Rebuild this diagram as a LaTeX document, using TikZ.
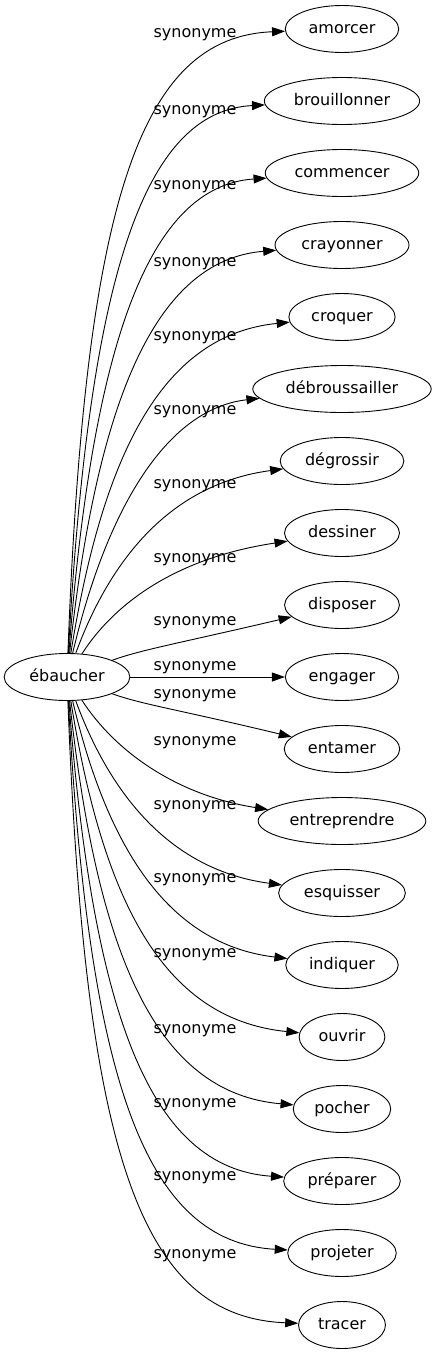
\documentclass[tikz,border=0pt]{standalone}
\usepackage{fontspec}
\setmainfont{DejaVu Sans}
\usepackage{tikz}
\usetikzlibrary{arrows.meta, shapes.geometric, calc}

\begin{document}
\begin{tikzpicture}[x=1pt, y=-1pt,
    every node/.style = {font=\fontsize{16pt}{19pt}\selectfont},
    word/.style = {draw, ellipse, line width=0.9pt, inner xsep=6.8pt,
      inner ysep=2pt, minimum height=47pt, text height=12pt, text depth=3.5pt},
    syn/.style  = {line width=0.9pt, -{Triangle[length=13pt, width=9pt]}},
    lbl/.style  = {inner sep=0pt, text height=12pt, text depth=3.5pt},
  ]
  \useasboundingbox (0,0) rectangle (435,1355);
  % the verb
  \node[word] (root) at (67,677) {ébaucher};
  % its synonyms
  \node[word] (amorcer) at (342,29) {amorcer};
  \node[word] (brouillonner) at (342,101) {brouillonner};
  \node[word] (commencer) at (342,173) {commencer};
  \node[word] (crayonner) at (342,245) {crayonner};
  \node[word] (croquer) at (342,317) {croquer};
  \node[word] (debroussailler) at (342,389) {débroussailler};
  \node[word] (degrossir) at (342,461) {dégrossir};
  \node[word] (dessiner) at (342,533) {dessiner};
  \node[word] (disposer) at (342,605) {disposer};
  \node[word] (engager) at (342,677) {engager};
  \node[word] (entamer) at (342,749) {entamer};
  \node[word] (entreprendre) at (342,821) {entreprendre};
  \node[word] (esquisser) at (342,893) {esquisser};
  \node[word] (indiquer) at (342,965) {indiquer};
  \node[word] (ouvrir) at (342,1037) {ouvrir};
  \node[word] (pocher) at (342,1109) {pocher};
  \node[word] (preparer) at (342,1181) {préparer};
  \node[word] (projeter) at (342,1253) {projeter};
  \node[word] (tracer) at (342,1325) {tracer};
  % edges
  \draw[syn] (root) .. controls (85,200) and (140,37) .. (amorcer) node[lbl] at (195,33) {synonyme};
  \draw[syn] (root) .. controls (89,272) and (145,111) .. (brouillonner) node[lbl] at (195,110) {synonyme};
  \draw[syn] (root) .. controls (93,339) and (150,186) .. (commencer) node[lbl] at (195,185) {synonyme};
  \draw[syn] (root) .. controls (97,401) and (155,260) .. (crayonner) node[lbl] at (195,262) {synonyme};
  \draw[syn] (root) .. controls (102,459) and (160,335) .. (croquer) node[lbl] at (195,336) {synonyme};
  \draw[syn] (root) .. controls (106,512) and (165,409) .. (debroussailler) node[lbl] at (195,410) {synonyme};
  \draw[syn] (root) .. controls (110,560) and (170,484) .. (degrossir) node[lbl] at (195,484) {synonyme};
  \draw[syn] (root) .. controls (114,604) and (175,558) .. (dessiner) node[lbl] at (195,558) {synonyme};
  \draw[syn] (root) .. controls (140,650) and (180,643) .. (disposer) node[lbl] at (195,621) {synonyme};
  \draw[syn] (root) -- (engager) node[lbl] at (195,666) {synonyme};
  \draw[syn] (root) .. controls (140,704) and (180,710) .. (entamer) node[lbl] at (195,694) {synonyme};
  \draw[syn] (root) .. controls (114,750) and (175,795) .. (entreprendre) node[lbl] at (195,741) {synonyme};
  \draw[syn] (root) .. controls (110,794) and (170,870) .. (esquisser) node[lbl] at (195,805) {synonyme};
  \draw[syn] (root) .. controls (106,842) and (165,944) .. (indiquer) node[lbl] at (195,878) {synonyme};
  \draw[syn] (root) .. controls (102,895) and (160,1019) .. (ouvrir) node[lbl] at (195,953) {synonyme};
  \draw[syn] (root) .. controls (97,953) and (155,1093) .. (pocher) node[lbl] at (195,1029) {synonyme};
  \draw[syn] (root) .. controls (93,1015) and (150,1168) .. (preparer) node[lbl] at (195,1103) {synonyme};
  \draw[syn] (root) .. controls (89,1082) and (145,1242) .. (projeter) node[lbl] at (195,1176) {synonyme};
  \draw[syn] (root) .. controls (85,1154) and (140,1317) .. (tracer) node[lbl] at (195,1254) {synonyme};
\end{tikzpicture}
\end{document}
